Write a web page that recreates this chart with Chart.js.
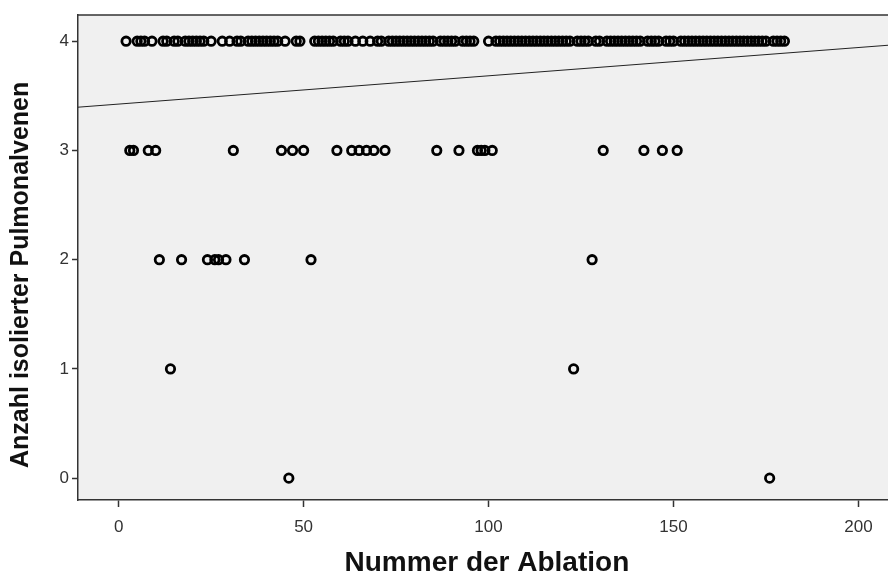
<!DOCTYPE html>
<html>
<head>
<meta charset="utf-8">
<script src="https://cdn.jsdelivr.net/npm/chart.js@4/dist/chart.umd.min.js"></script>
<style>
  html, body { margin: 0; padding: 0; background: #fff; }
  #wrap { width: 888px; height: 572px; }
</style>
</head>
<body>
<div id="wrap"><canvas id="myChart" width="888" height="572"></canvas></div>
<script>
// Ablation numbers grouped by count of isolated pulmonary veins
const pvCounts = [4, 3, 2, 1, 0];
const ablations4 = [2, 5, 6, 7, 9, 12, 13, 15, 16, 18, 19, 20, 21, 22, 23, 25, 28, 30, 32, 33,
  35, 36, 37, 38, 39, 40, 41, 42, 43, 45, 48, 49, 53, 54, 55, 56, 57, 58, 60, 61, 62, 64, 66,
  68, 70, 71, 73, 74, 75, 76, 77, 78, 79, 80, 81, 82, 83, 84, 85, 87, 88, 89, 90, 91, 93, 94,
  95, 96, 100, 102, 103, 104, 105, 106, 107, 108, 109, 110, 111, 112, 113, 114, 115, 116, 117,
  118, 119, 120, 121, 122, 124, 125, 126, 127, 129, 130, 132, 133, 134, 135, 136, 137, 138,
  139, 140, 141, 143, 144, 145, 146, 148, 149, 150, 152, 153, 154, 155, 156, 157, 158, 159,
  160, 161, 162, 163, 164, 165, 166, 167, 168, 169, 170, 171, 172, 173, 174, 175, 177, 178,
  179, 180];
const ablations3 = [3, 4, 8, 10, 31, 44, 47, 50, 59, 63, 65, 67, 69, 72, 86, 92, 97, 98, 99,
  101, 131, 142, 147, 151];
const ablations2 = [11, 17, 24, 26, 27, 29, 34, 52, 128];
const ablations1 = [14, 123];
const ablations0 = [46, 176];

// fit line end points
const fitX = [-11, 208];
const fitY = [3.396, 3.963];

const xTicks = [0, 50, 100, 150, 200];
const yTicks = [0, 1, 2, 3, 4];

const groups = [ablations4, ablations3, ablations2, ablations1, ablations0];
const points = [];
groups.forEach((list, i) => {
  list.forEach((n) => points.push({ x: n, y: pvCounts[i] }));
});

const plotBg = {
  id: "plotBg",
  beforeDraw(chart) {
    const { ctx, chartArea: a } = chart;
    ctx.save();
    ctx.fillStyle = "#f0f0f0";
    ctx.fillRect(a.left, a.top, a.right - a.left, a.bottom - a.top);
    ctx.restore();
  },
  afterDraw(chart) {
    const { ctx, chartArea: a } = chart;
    ctx.save();
    ctx.strokeStyle = "#333";
    ctx.lineWidth = 1.5;
    ctx.beginPath();
    ctx.moveTo(a.left, a.top);
    ctx.lineTo(a.right, a.top);
    ctx.stroke();
    ctx.restore();
  },
};

const tickFont = { family: "'Liberation Sans Narrow', 'Liberation Sans', Arial, sans-serif", size: 17 };

new Chart(document.getElementById("myChart"), {
  type: "scatter",
  data: {
    datasets: [
      {
        data: points,
        pointRadius: 4.2,
        pointBorderWidth: 2.8,
        pointBorderColor: "#000",
        pointBackgroundColor: "rgba(0,0,0,0)",
      },
      {
        type: "line",
        data: fitX.map((x, i) => ({ x: x, y: fitY[i] })),
        borderColor: "#222",
        borderWidth: 1,
        pointRadius: 0,
        fill: false,
      },
    ],
  },
  options: {
    responsive: false,
    animation: false,
    devicePixelRatio: 1,
    layout: { autoPadding: false, padding: { top: 15, right: 0, left: 0, bottom: 0 } },
    plugins: {
      legend: { display: false },
      tooltip: { enabled: false },
    },
    scales: {
      x: {
        type: "linear",
        min: fitX[0],
        max: fitX[1],
        afterFit(scale) {
          scale.height = 72;
          scale.paddingLeft = 0;
          scale.paddingRight = 0;
        },
        afterBuildTicks(scale) { scale.ticks = xTicks.map((v) => ({ value: v })); },
        grid: { drawOnChartArea: false, drawTicks: true, tickLength: 7, color: "#333", tickWidth: 1.5 },
        border: { display: true, color: "#333", width: 1.5 },
        ticks: { font: tickFont, color: "#333", padding: 10, maxRotation: 0 },
        title: {
          display: true,
          text: "\u00a0Nummer der Ablation",
          font: { family: "'Liberation Sans', Arial, sans-serif", size: 28, weight: "bold", lineHeight: 1 },
          color: "#111",
          padding: { top: 0, bottom: -5 },
        },
      },
      y: {
        type: "linear",
        min: -0.2,
        max: 4.24,
        afterFit(scale) {
          scale.width = 78;
          scale.paddingTop = 0;
          scale.paddingBottom = 0;
        },
        afterBuildTicks(scale) { scale.ticks = yTicks.map((v) => ({ value: v })); },
        grid: { drawOnChartArea: false, drawTicks: true, tickLength: 6, color: "#333", tickWidth: 1.5 },
        border: { display: true, color: "#333", width: 1.5 },
        ticks: { font: tickFont, color: "#333", padding: 3 },
        title: {
          display: true,
          text: "Anzahl isolierter Pulmonalvenen\u00a0\u00a0\u00a0\u00a0\u00a0",
          font: { family: "'Liberation Sans', Arial, sans-serif", size: 25, weight: "bold", lineHeight: 1 },
          color: "#111",
          padding: { top: 9, bottom: 0 },
        },
      },
    },
  },
  plugins: [plotBg],
});
</script>
</body>
</html>
